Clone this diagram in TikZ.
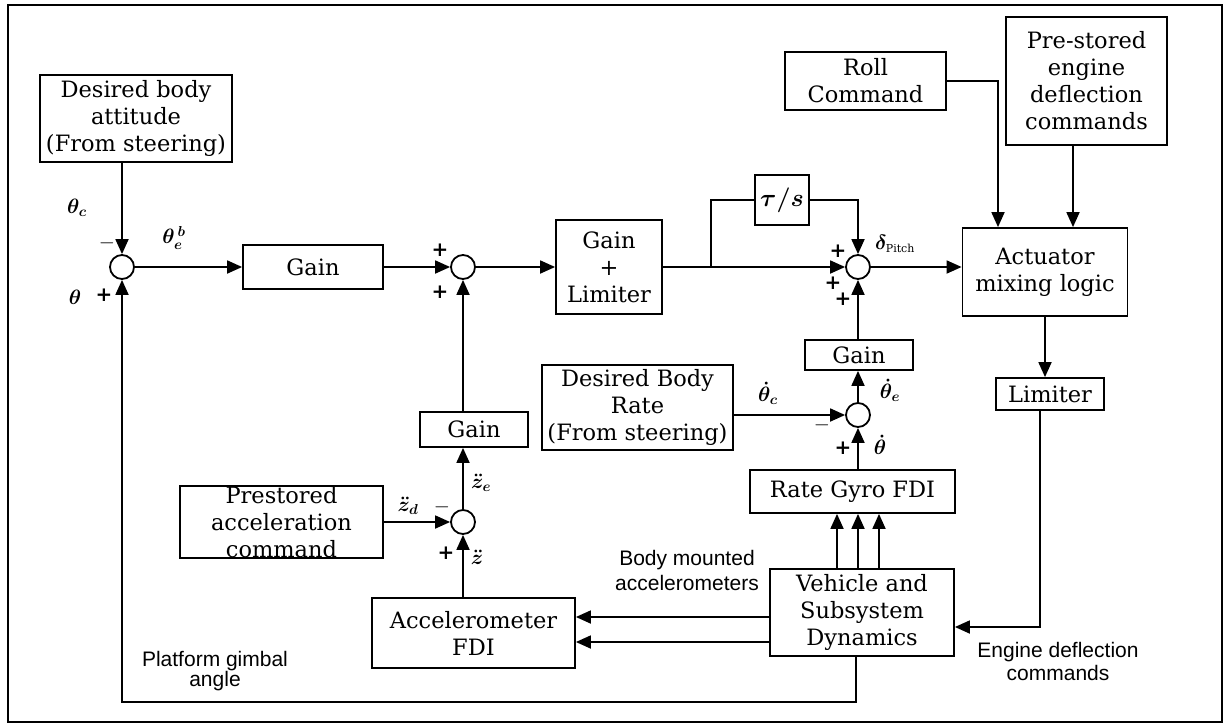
\documentclass[tikz,border=0pt]{standalone}
\usepackage{fontspec}
\setmainfont{DejaVu Serif}
\newfontfamily\labfont{Liberation Sans}
\usetikzlibrary{arrows.meta,calc}
\begin{document}
\begin{tikzpicture}[x=1pt,y=-1pt,line width=1.8pt,
  box/.style={draw,align=center,inner sep=0pt,font=\fontsize{22.5}{27}\selectfont},
  sumj/.style={circle,draw,minimum size=24pt,inner sep=0pt},
  arr/.style={-{Triangle[length=15pt,width=13pt]}},
  lbl/.style={font=\fontsize{22}{24}\selectfont\boldmath,inner sep=0pt},
  sgn/.style={font=\fontsize{20}{20}\selectfont\bfseries,inner sep=0pt},
  sans/.style={font=\labfont\fontsize{21}{25}\selectfont,align=center,inner sep=0pt}]
\useasboundingbox (0,0) rectangle (1228,725);
\draw[line width=1.5pt] (8,5) rectangle (1222,722);

% boxes
\node[box,minimum width=192pt,minimum height=87pt] (dba) at (136,118.5) {Desired body\\attitude\\(From steering)};
\node[sumj] (s1) at (122,267) {};
\node[box,minimum width=140pt,minimum height=44pt] (g1) at (313,267) {Gain};
\node[sumj] (sB) at (463,267) {};
\node[box,minimum width=106pt,minimum height=94pt] (gl) at (609,267) {Gain\\+\\Limiter};
\node[box,minimum width=54pt,minimum height=50pt,font=\fontsize{26}{27}\selectfont\boldmath] (tau) at (782,200) {$\tau/s$};
\node[sumj] (s3) at (858,267) {};
\node[box,minimum width=161pt,minimum height=58pt] (roll) at (865.5,81) {Roll\\Command};
\node[box,minimum width=161pt,minimum height=128pt] (pre) at (1086.5,81) {Pre-stored\\engine\\deflection\\commands};
\node[box,minimum width=165pt,minimum height=88pt] (act) at (1045,272) {Actuator\\mixing logic};
\node[box,minimum width=108pt,minimum height=32pt] (lim) at (1050,394) {Limiter};
\node[box,minimum width=108pt,minimum height=30pt] (g3) at (859,355) {Gain};
\node[sumj] (s4) at (858,415) {};
\node[box,minimum width=191pt,minimum height=85pt] (dbr) at (637.5,407.5) {Desired Body\\Rate\\(From steering)};
\node[box,minimum width=108pt,minimum height=35pt] (g2) at (474,429.5) {Gain};
\node[sumj] (s2) at (463,522) {};
\node[box,minimum width=203pt,minimum height=70pt] (pac) at (281.5,522) {Prestored\\acceleration\\command};
\node[box,minimum width=203pt,minimum height=70pt] (afdi) at (473.5,633) {Accelerometer\\FDI};
\node[box,minimum width=205pt,minimum height=43pt] (rg) at (852.5,491.5) {Rate Gyro FDI};
\node[box,minimum width=184pt,minimum height=87pt] (veh) at (862,612.5) {Vehicle and\\Subsystem\\Dynamics};

% helper coordinates
\coordinate (br) at (711,267);
\coordinate (rollx) at (998,0);
\coordinate (prex) at (1073,0);
\coordinate (limi) at (1045,0);
\coordinate (limo) at (1040,0);
\coordinate (vin) at (0,627);
\coordinate (a1) at (0,617);
\coordinate (a2) at (0,642);
\coordinate (fb) at (856,702);

% connectors
\draw[arr] (dba.south -| s1) -- (s1.north);
\draw[arr] (s1.east) -- (g1.west);
\draw[arr] (g1.east) -- (sB.west);
\draw[arr] (sB.east) -- (gl.west);
\draw[arr] (gl.east) -- (s3.west);
\draw (br) |- (tau.west);
\draw[arr] (tau.east) -| (s3.north);
\draw[arr] (g3.north -| s3) -- (s3.south);
\draw[arr] (s4.north) -- (s4 |- g3.south);
\draw[arr] (dbr.east |- s4) -- (s4.west);
\draw[arr] (s4 |- rg.north) -- (s4.south);
\foreach \dx in {-21,0,21}
  \draw[arr] ($(s4 |- veh.north)+(\dx,0)$) -- ($(s4 |- rg.south)+(\dx,0)$);
\draw[arr] (s3.east) -- (act.west |- s3);
\draw[arr] (roll.east) -| (rollx |- act.north);
\draw[arr] (prex |- pre.south) -- (prex |- act.north);
\draw[arr] (limi |- act.south) -- (limi |- lim.north);
\draw[arr] (limo |- lim.south) |- (veh.east |- vin);
\draw[arr] (veh.west |- a1) -- (afdi.east |- a1);
\draw[arr] (veh.west |- a2) -- (afdi.east |- a2);
\draw[arr] (s2 |- afdi.north) -- (s2.south);
\draw[arr] (pac.east |- s2) -- (s2.west);
\draw[arr] (s2.north) -- (s2 |- g2.south);
\draw[arr] (s2 |- g2.north) -- (sB.south);
\draw[arr] (fb |- veh.south) -- (fb) -| (s1.south);

% labels
\node[lbl] (lthc) at (77,208) {$\theta_c$};
\node[sgn] (m1) at (107,243) {$-$};
\node[lbl] (lthe) at (174,238) {$\theta_e^{\,b}$};
\node[lbl] (lth) at (75,297) {$\theta$};
\node[sgn] (p1) at (104,295) {+};
\node[sgn] (pb1) at (440,250) {+};
\node[sgn] (pb2) at (440,292) {+};
\node[sgn] (p31) at (838,251) {+};
\node[sgn] (p32) at (833,283) {+};
\node[sgn] (p33) at (843,299) {+};
\node[lbl] (ldel) at (895,244) {$\delta_{\hbox{\fontsize{11}{11}\selectfont Pitch}}$};
\node[lbl] (lthdc) at (768,393) {$\dot\theta_c$};
\node[sgn] (m4) at (822,425) {$-$};
\node[lbl] (lthde) at (890,390) {$\dot\theta_e$};
\node[sgn] (p4) at (843,448) {+};
\node[lbl] (lthd) at (880,445) {$\dot\theta$};
\node[lbl] (lze) at (481,483) {$\ddot z_e$};
\node[lbl] (lzd) at (408,506) {$\ddot z_d$};
\node[sgn] (m2) at (442,507) {$-$};
\node[sgn] (p2) at (446,553) {+};
\node[lbl] (lz) at (477,557) {$\ddot z$};
\node[sans] (tbm) at (687,570) {Body mounted\\accelerometers};
\node[sans,font=\labfont\fontsize{21}{20}\selectfont] (tpg) at (215,671) {Platform gimbal\\angle};
\node[sans,font=\labfont\fontsize{21}{23}\selectfont] (ted) at (1058,661) {Engine deflection\\commands};
\end{tikzpicture}
\end{document}
